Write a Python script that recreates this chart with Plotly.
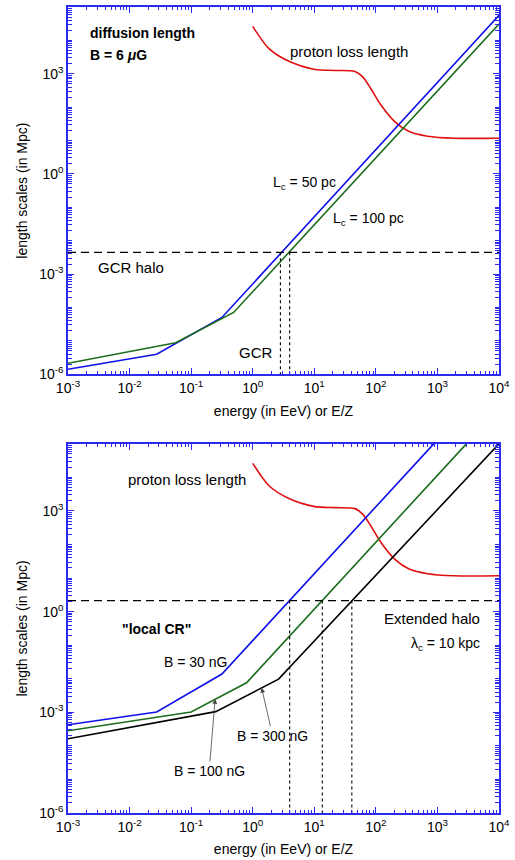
import plotly.graph_objects as go

# ---------------- data (log10 values) ----------------
# proton loss length (same curve in both panels)
loss_logE = [0.0, 0.26, 0.58, 1.01, 1.34, 1.66, 1.79, 1.92, 2.08, 2.31, 2.54, 2.84, 3.27, 4.0]
loss_logL = [4.42, 3.76, 3.38, 3.13, 3.10, 3.07, 2.90, 2.55, 2.07, 1.56, 1.27, 1.13, 1.07, 1.07]

# top panel: diffusion length, B = 6 muG
top_lc50_logE = [-3.0, -1.56, -0.5, 4.0]
top_lc50_logL = [-5.85, -5.40, -4.30, 4.75]
top_lc100_logE = [-3.0, -1.25, -0.31, 4.0]
top_lc100_logL = [-5.67, -5.06, -4.15, 4.49]
top_halo_logL = -2.35
top_cross_logE = [0.45, 0.60]

# bottom panel: local CR, lambda_c = 10 kpc
bot_b30_logE = [-3.0, -1.56, -0.5, 2.94]
bot_b30_logL = [-3.37, -2.99, -1.86, 5.0]
bot_b100_logE = [-3.0, -1.0, -0.1, 3.47]
bot_b100_logL = [-3.55, -2.99, -2.12, 5.0]
bot_b300_logE = [-3.0, -0.6, 0.42, 4.0]
bot_b300_logL = [-3.79, -2.98, -2.01, 5.0]
bot_halo_logL = 0.33
bot_cross_logE = [0.60, 1.13, 1.61]

x_decades = [-3, -2, -1, 0, 1, 2, 3, 4]
y_decades = [-6, -5, -4, -3, -2, -1, 0, 1, 2, 3, 4, 5]
y_labeled = [-6, -3, 0, 3]

# ---------------- styling ----------------
FONT = "Liberation Sans, Arial, sans-serif"
AX = "#2a2af0"
BLUE = "#1010e8"
GREEN = "#1d6e1d"
RED = "#e01010"


def p(v):
    return [10 ** a for a in v]


fig = go.Figure()


def line(xl, yl, color, xa, ya, width=1.6, dash=None, shape="linear"):
    fig.add_trace(go.Scatter(x=p(xl), y=p(yl), mode="lines",
                             line=dict(color=color, width=width, dash=dash, shape=shape, smoothing=0.8),
                             xaxis=xa, yaxis=ya, showlegend=False, hoverinfo="skip"))


for xa, ya in (("x", "y"), ("x2", "y2")):
    line(loss_logE, loss_logL, RED, xa, ya, shape="spline")

# top
line(top_lc50_logE, top_lc50_logL, BLUE, "x", "y")
line(top_lc100_logE, top_lc100_logL, GREEN, "x", "y")
line([x_decades[0], x_decades[-1]], [top_halo_logL, top_halo_logL], "black", "x", "y", width=1.2, dash="8px,5px")
for c in top_cross_logE:
    line([c, c], [top_halo_logL, y_decades[0]], "black", "x", "y", width=1.1, dash="3px,3px")

# bottom
line(bot_b30_logE, bot_b30_logL, BLUE, "x2", "y2")
line(bot_b100_logE, bot_b100_logL, GREEN, "x2", "y2")
line(bot_b300_logE, bot_b300_logL, "black", "x2", "y2")
line([x_decades[0], x_decades[-1]], [bot_halo_logL, bot_halo_logL], "black", "x2", "y2", width=1.2, dash="8px,5px")
for c in bot_cross_logE:
    line([c, c], [bot_halo_logL, y_decades[0]], "black", "x2", "y2", width=1.1, dash="3px,3px")


def sup(e):
    return "10<sup>%d</sup>" % e


minor_x = [m * 10 ** d for d in x_decades[:-1] for m in range(2, 10)]
minor_y = [m * 10 ** d for d in y_decades[:-1] for m in range(2, 10)] + \
          [10 ** d for d in y_decades if d not in y_labeled]

common = dict(type="log", showline=True, linecolor=AX, linewidth=1.5, mirror="ticks",
              ticks="inside", ticklen=6, tickwidth=1, tickcolor=AX, showgrid=False, zeroline=False,
              tickfont=dict(family=FONT, size=14, color="black"))
xcommon = dict(common, range=[-3, 4], tickmode="array", tickvals=p(x_decades),
               ticktext=[sup(d) for d in x_decades],
               minor=dict(tickmode="array", tickvals=minor_x, ticks="inside", ticklen=3, tickcolor=AX, tickwidth=1),
               title=dict(text="energy (in EeV) or E/Z", font=dict(family=FONT, size=14, color="black"), standoff=11))
ycommon = dict(common, range=[-6, 5], tickmode="array", tickvals=p(y_labeled),
               ticktext=[sup(d) for d in y_labeled],
               minor=dict(tickmode="array", tickvals=minor_y, ticks="inside", ticklen=4, tickcolor=AX, tickwidth=1),
               title=dict(text="length scales (in Mpc)", font=dict(family=FONT, size=14, color="black"), standoff=8))

fig.update_layout(
    width=515, height=860, margin=dict(l=68, r=13, t=5, b=45),
    paper_bgcolor="white", plot_bgcolor="white",
    font=dict(family=FONT, size=14, color="black"),
    xaxis=dict(xcommon, domain=[0, 1], anchor="y"),
    yaxis=dict(ycommon, domain=[0.5444, 1], anchor="x"),
    xaxis2=dict(xcommon, domain=[0, 1], anchor="y2"),
    yaxis2=dict(ycommon, domain=[0, 0.458], anchor="x2"),
)


def ann(text, x, y, xr, yr, xanchor="left", bold=False, size=14):
    fig.add_annotation(text=("<b>%s</b>" % text) if bold else text, x=x, y=y, xref=xr, yref=yr,
                       xanchor=xanchor, yanchor="middle", showarrow=False,
                       font=dict(family=FONT, size=size, color="black"))


# top annotations (log10 coordinates)
ann("diffusion length", -2.68, 4.22, "x", "y", bold=True)
ann("B = 6 <i>μ</i>G", -2.68, 3.56, "x", "y", bold=True)
ann("proton loss length", 0.57, 3.68, "x", "y", size=15)
ann("L<sub>c</sub> = 50 pc", 0.29, -0.26, "x", "y")
ann("L<sub>c</sub> = 100 pc", 1.27, -1.34, "x", "y")
ann("GCR halo", -2.55, -2.80, "x", "y", size=15)
ann("GCR", -0.26, -5.34, "x", "y", size=15)

# bottom annotations
ann("proton loss length", -2.06, 3.93, "x2", "y2", size=15)
ann("\"local CR\"", -2.16, -0.53, "x2", "y2", bold=True)
ann("Extended halo", 3.73, -0.21, "x2", "y2", xanchor="right", size=15)
ann("λ<sub>c</sub> = 10 kpc", 3.73, -0.95, "x2", "y2", xanchor="right")
ann("B = 30 nG", -1.48, -1.51, "x2", "y2")

for text, hx, hy, ax, ay in (("B = 100 nG", -0.61, -2.60, -6, 72), ("B = 300 nG", 0.145, -2.27, 11, 48)):
    fig.add_annotation(text=text, x=hx, y=hy, xref="x2", yref="y2", ax=ax, ay=ay, showarrow=True,
                       arrowhead=2, arrowsize=1.2, arrowwidth=0.8, arrowcolor="#444",
                       font=dict(family=FONT, size=14, color="black"))

fig.write_html("out.html")
